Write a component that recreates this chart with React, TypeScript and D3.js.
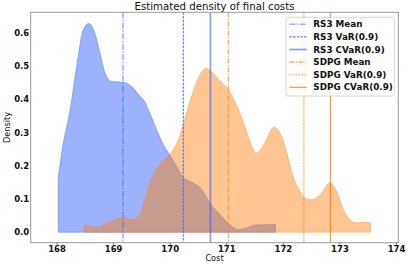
import { useRef, useEffect } from 'react';
import * as d3 from 'd3';

// KDE curves
const rs3Cost = [168.03, 168.10, 168.24, 168.36, 168.47, 168.57, 168.68, 168.77, 168.86, 168.98, 169.18, 169.33, 169.48, 169.55, 169.65, 169.77, 169.89, 169.98, 170.09, 170.24, 170.42, 170.57, 170.71, 170.89, 171.06, 171.21, 171.36, 171.51, 171.87];
const rs3Density = [0.163, 0.248, 0.368, 0.503, 0.608, 0.628, 0.598, 0.538, 0.478, 0.453, 0.451, 0.438, 0.408, 0.395, 0.358, 0.308, 0.263, 0.238, 0.208, 0.165, 0.148, 0.128, 0.088, 0.053, 0.023, 0.008, 0.013, 0.022, 0.023];

const sdpgCost = [168.49, 168.71, 168.95, 169.17, 169.33, 169.45, 169.56, 169.65, 169.83, 170.01, 170.18, 170.30, 170.45, 170.54, 170.65, 170.74, 170.89, 171.04, 171.18, 171.30, 171.42, 171.53, 171.68, 171.84, 171.98, 172.07, 172.18, 172.30, 172.39, 172.51, 172.66, 172.83, 172.95, 173.07, 173.18, 173.30, 173.45, 173.55];
const sdpgDensity = [0.021, 0.016, 0.033, 0.045, 0.038, 0.048, 0.098, 0.148, 0.205, 0.235, 0.29, 0.36, 0.44, 0.475, 0.493, 0.483, 0.455, 0.428, 0.383, 0.333, 0.273, 0.238, 0.268, 0.316, 0.288, 0.238, 0.168, 0.123, 0.103, 0.098, 0.113, 0.148, 0.123, 0.068, 0.038, 0.028, 0.031, 0.028];

const statLabels = ['RS3 Mean', 'RS3 VaR(0.9)', 'RS3 CVaR(0.9)', 'SDPG Mean', 'SDPG VaR(0.9)', 'SDPG CVaR(0.9)'];
const statValues = [169.175, 170.24, 170.72, 171.035, 172.37, 172.84];

const xTicks = [168, 169, 170, 171, 172, 173, 174];
const yTicks = [0.0, 0.1, 0.2, 0.3, 0.4, 0.5, 0.6];

const W = 407;
const H = 267;
const FONT = 'DejaVu Sans, sans-serif';

const BLUE = '#3a66f5';
const ORANGE = '#ff7f0e';

const statStyles = [
  { color: BLUE, opacity: 0.5, width: 1.6, dash: '6,1.5,1.5,1.5' },
  { color: '#3a66f0', opacity: 1, width: 1, dash: '2.5,1.2' },
  { color: BLUE, opacity: 0.6, width: 1.8, dash: null },
  { color: ORANGE, opacity: 0.9, width: 1, dash: '5,1.5,1.2,1.5' },
  { color: ORANGE, opacity: 0.45, width: 1.8, dash: '2,1' },
  { color: ORANGE, opacity: 0.9, width: 1.1, dash: null },
];

export default function App() {
  const svgRef = useRef<SVGSVGElement>(null);

  useEffect(() => {
    const svg = svgRef.current;
    if (!svg) return;
    const root = d3.select(svg);
    root.selectAll('*').remove();

    const left = 30.7, right = 398.3, top = 12.3, bottom = 242.7;
    const x = d3.scaleLinear().domain([167.544, 174.04]).range([left, right]);
    const y = d3.scaleLinear().domain([-0.0315, 0.6615]).range([bottom, top]);

    const area = d3.area<[number, number]>()
      .x(d => x(d[0])).y0(y(0)).y1(d => y(d[1]))
      .curve(d3.curveMonotoneX);

    const rs3 = rs3Cost.map((c, i) => [c, rs3Density[i]] as [number, number]);
    const sdpg = sdpgCost.map((c, i) => [c, sdpgDensity[i]] as [number, number]);

    root.append('path').datum(rs3).attr('d', area)
      .attr('fill', BLUE).attr('fill-opacity', 0.5)
      .attr('stroke', BLUE).attr('stroke-opacity', 0.5).attr('stroke-width', 0.8);
    root.append('path').datum(sdpg).attr('d', area)
      .attr('fill', ORANGE).attr('fill-opacity', 0.45)
      .attr('stroke', ORANGE).attr('stroke-opacity', 0.45).attr('stroke-width', 0.8);

    // vertical stat lines
    statValues.forEach((v, i) => {
      const s = statStyles[i];
      root.append('line')
        .attr('x1', x(v)).attr('x2', x(v)).attr('y1', top).attr('y2', bottom)
        .attr('stroke', s.color).attr('stroke-opacity', s.opacity).attr('stroke-width', s.width)
        .attr('stroke-dasharray', s.dash);
    });

    // frame
    root.append('rect').attr('x', left).attr('y', top)
      .attr('width', right - left).attr('height', bottom - top)
      .attr('fill', 'none').attr('stroke', '#999').attr('stroke-width', 1);

    // axes
    const xAxis = d3.axisBottom(x).tickValues(xTicks).tickSize(2).tickPadding(1.5).tickFormat(d3.format('d'));
    const xG = root.append('g').attr('transform', `translate(0,${bottom})`).call(xAxis);
    xG.select('.domain').remove();
    xG.selectAll('line').attr('stroke', '#666');
    xG.selectAll('text').attr('fill', '#111').attr('font-family', FONT).attr('font-size', '8.5px').attr('font-weight', 'bold');

    const yAxis = d3.axisLeft(y).tickValues(yTicks).tickSize(0).tickPadding(1.5).tickFormat(d3.format('.1f'));
    const yG = root.append('g').attr('transform', `translate(${left},0)`).call(yAxis);
    yG.select('.domain').remove();
    yG.selectAll('text').attr('fill', '#111').attr('font-family', FONT).attr('font-size', '8.5px').attr('font-weight', 'bold');

    // labels
    root.append('text').attr('x', (left + right) / 2).attr('y', 10).attr('text-anchor', 'middle')
      .attr('font-family', FONT).attr('font-size', '10.2px').attr('fill', '#111')
      .text('Estimated density of final costs');
    root.append('text').attr('x', (left + right) / 2).attr('y', 261).attr('text-anchor', 'middle')
      .attr('font-family', FONT).attr('font-size', '8.2px').attr('fill', '#111').text('Cost');
    root.append('text').attr('transform', `translate(9.5,${(top + bottom) / 2}) rotate(-90)`)
      .attr('text-anchor', 'middle')
      .attr('font-family', FONT).attr('font-size', '8.2px').attr('fill', '#111').text('Density');

    // legend
    const lg = root.append('g').attr('transform', 'translate(286,17.3)');
    lg.append('rect').attr('x', 0).attr('y', 0).attr('width', 108.3).attr('height', 78.7).attr('rx', 2)
      .attr('fill', '#fff').attr('fill-opacity', 0.8).attr('stroke', '#ccc').attr('stroke-width', 0.8);
    statLabels.forEach((label, i) => {
      const s = statStyles[i];
      const cy = 7 + i * 12.6;
      lg.append('line').attr('x1', 3.3).attr('x2', 20.7).attr('y1', cy).attr('y2', cy)
        .attr('stroke', s.color).attr('stroke-opacity', s.opacity).attr('stroke-width', s.width)
        .attr('stroke-dasharray', s.dash);
      lg.append('text').attr('x', 27.3).attr('y', cy + 3.2)
        .attr('font-family', FONT).attr('font-size', '8.8px').attr('font-weight', 'bold').attr('fill', '#111')
        .text(label);
    });
  }, []);

  return (
    <div style={{ position: 'fixed', left: 0, top: 0, width: W, height: H, background: '#fff' }}>
      <svg ref={svgRef} width={W} height={H} style={{ display: 'block' }} />
    </div>
  );
}
